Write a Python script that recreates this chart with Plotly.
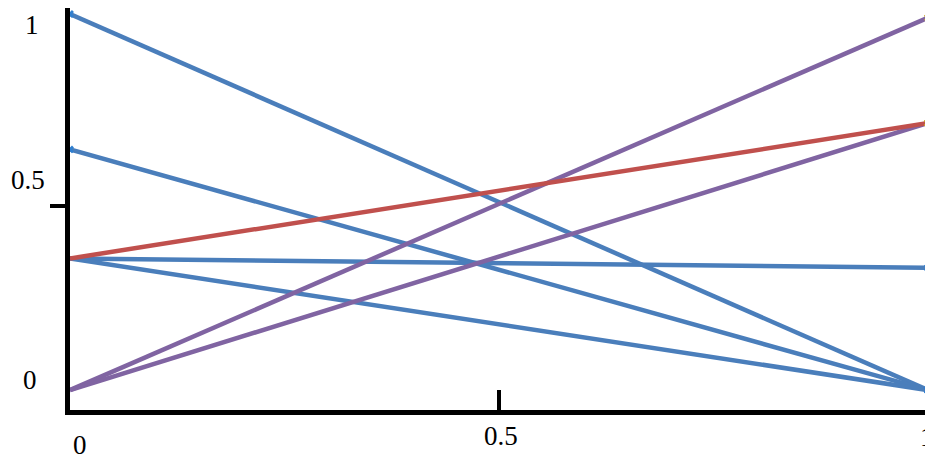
import plotly.graph_objects as go

x_pts = [0, 1]
blue_lines = [
    [1.0, 0.0],
    [0.64, 0.0],
    [0.35, 0.325],
    [0.35, 0.0],
]
red_lines = [
    [0.35, 0.71],
]
purple_lines = [
    [0.0, 0.99],
    [0.0, 0.71],
]
x_tick_labels = ["0", "0.5", "1"]
y_tick_labels = ["1", "0.5", "0"]

BLUE = "#4a7ebb"
RED = "#c0504d"
PURPLE = "#8064a2"
GOLD = "#c9a227"

fig = go.Figure()
for ys in blue_lines:
    fig.add_trace(go.Scatter(x=x_pts, y=ys, mode="lines",
                             line=dict(color=BLUE, width=4.5), cliponaxis=False))
for ys in purple_lines:
    fig.add_trace(go.Scatter(x=x_pts, y=ys, mode="lines",
                             line=dict(color=PURPLE, width=4.5), cliponaxis=False))
for ys in red_lines:
    fig.add_trace(go.Scatter(x=x_pts, y=ys, mode="lines",
                             line=dict(color=RED, width=4.5), cliponaxis=False))

# endpoint markers
left_blue = [ys[0] for ys in blue_lines if ys[0] > 0.5]
right_blue = [ys[1] for ys in blue_lines]
right_gold = [ys[1] for ys in purple_lines + red_lines]
fig.add_trace(go.Scatter(x=[0] * len(left_blue), y=left_blue, mode="markers",
                         marker=dict(symbol="x", size=7, color="#2f7fd0"), cliponaxis=False))
fig.add_trace(go.Scatter(x=[1] * len(right_blue), y=right_blue, mode="markers",
                         marker=dict(symbol="x", size=7, color="#2f7fd0"), cliponaxis=False))
fig.add_trace(go.Scatter(x=[1] * len(right_gold), y=right_gold, mode="markers",
                         marker=dict(symbol="x", size=7, color=GOLD), cliponaxis=False))

font = dict(family="Liberation Serif", size=27, color="black")
# tick label annotations (offset as in the original)
ylab_pos = [(-0.044, 0.958), (-0.049, 0.572), (-0.046, 0.075)]
xlab_pos = [(0.012, -0.087), (0.4994, -0.065), (0.993, -0.067)]
for t, (px, py) in zip(y_tick_labels, ylab_pos):
    fig.add_annotation(text=t, x=px, y=py, xref="paper", yref="paper",
                       showarrow=False, font=font, xanchor="center", yanchor="middle")
for t, (px, py) in zip(x_tick_labels, xlab_pos):
    fig.add_annotation(text=t, x=px, y=py, xref="paper", yref="paper",
                       showarrow=False, font=font, xanchor="center", yanchor="middle")

# page body has an 8px default margin, so the figure is sized/offset to compensate
fig.update_layout(
    width=925, height=452,
    margin=dict(l=62, r=0, t=0, b=50),
    paper_bgcolor="white", plot_bgcolor="white",
    showlegend=False,
    xaxis=dict(range=[0, 1.006], showgrid=False, zeroline=False,
               showline=True, linecolor="black", linewidth=5,
               tickvals=[0.5], ticks="inside", ticklen=20, tickwidth=4,
               tickcolor="black", showticklabels=False),
    yaxis=dict(range=[-0.053, 1.016], showgrid=False, zeroline=False,
               showline=True, linecolor="black", linewidth=5,
               tickvals=[0.49], ticks="outside", ticklen=15, tickwidth=4,
               tickcolor="black", showticklabels=False),
)

fig.write_html("out.html")
